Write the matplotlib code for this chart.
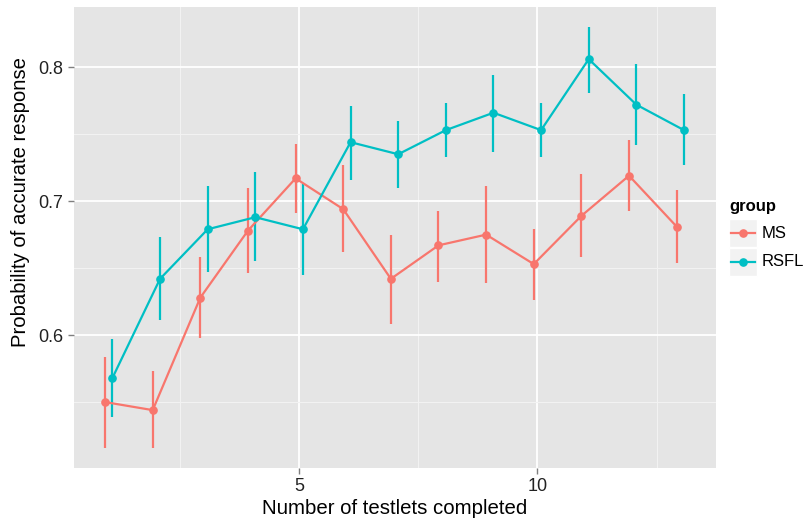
import matplotlib.pyplot as plt
from matplotlib.lines import Line2D
from matplotlib.patches import Rectangle

plt.rcParams['font.family'] = ['Liberation Sans', 'DejaVu Sans']

testlets = [1, 2, 3, 4, 5, 6, 7, 8, 9, 10, 11, 12, 13]

ms_mean = [0.550, 0.544, 0.628, 0.678, 0.717, 0.694, 0.642, 0.667, 0.675, 0.653, 0.689, 0.719, 0.681]
ms_low = [0.516, 0.516, 0.598, 0.646, 0.691, 0.662, 0.608, 0.640, 0.639, 0.626, 0.658, 0.693, 0.654]
ms_high = [0.584, 0.573, 0.658, 0.710, 0.743, 0.727, 0.675, 0.693, 0.711, 0.679, 0.720, 0.746, 0.708]

rsfl_mean = [0.568, 0.642, 0.679, 0.688, 0.679, 0.744, 0.735, 0.753, 0.766, 0.753, 0.806, 0.772, 0.753]
rsfl_low = [0.539, 0.611, 0.647, 0.655, 0.645, 0.716, 0.710, 0.733, 0.737, 0.733, 0.781, 0.742, 0.727]
rsfl_high = [0.597, 0.673, 0.711, 0.722, 0.713, 0.771, 0.760, 0.773, 0.794, 0.773, 0.830, 0.802, 0.780]

groups = ["MS", "RSFL"]
colors = ["#F8766D", "#00BFC4"]
dodge = [-0.077, 0.077]

fig = plt.figure(figsize=(8.05, 5.3), dpi=100)
ax = fig.add_axes([0.0919, 0.1175, 0.797, 0.8695])
ax.set_facecolor("#E5E5E5")

series = [(ms_mean, ms_low, ms_high), (rsfl_mean, rsfl_low, rsfl_high)]
for (mean, low, high), col, d in zip(series, colors, dodge):
    xs = [x + d for x in testlets]
    ax.vlines(xs, low, high, color=col, lw=1.6, zorder=3)
    ax.plot(xs, mean, color=col, lw=1.6, marker="o", ms=5.2, zorder=4)

ax.set_xlim(0.27, 13.74)
ax.set_ylim(0.501, 0.845)
ax.set_xticks([5, 10])
ax.set_xticks([2.5, 7.5, 12.5], minor=True)
ax.set_yticks([0.6, 0.7, 0.8])
ax.set_yticks([0.55, 0.65, 0.75], minor=True)
ax.set_yticklabels(["0.6", "0.7", "0.8"])
ax.grid(which="major", color="white", lw=1.3)
ax.grid(which="minor", color="#F2F2F2", lw=0.8)
ax.set_axisbelow(True)
for s in ax.spines.values():
    s.set_visible(False)
ax.tick_params(which="major", length=4, color="#7F7F7F", labelsize=13, labelcolor="#222222", width=1)
ax.tick_params(which="minor", length=0)

ax.set_xlabel("Number of testlets completed", fontsize=14.7, labelpad=3)
ax.set_ylabel("Probability of accurate response", fontsize=14.6)
ax.yaxis.set_label_coords(-0.069, 0.576)

# legend
W, H = 805, 530
fig.text(729 / W, 1 - 207 / H, "group", fontsize=12, fontweight="bold", va="center", ha="left")
for i, (g, col) in enumerate(zip(groups, colors)):
    top = 219 + i * 29
    fig.patches.append(Rectangle((729 / W, 1 - (top + 28) / H), 28 / W, 28 / H,
                                 transform=fig.transFigure, facecolor="#F2F2F2", edgecolor="white", lw=1))
    yc = 1 - (top + 14) / H
    fig.lines.append(Line2D([731 / W, 755 / W], [yc, yc], transform=fig.transFigure, color=col, lw=1.6))
    fig.lines.append(Line2D([743 / W], [yc], transform=fig.transFigure, color=col, marker="o", ms=5.2))
    fig.text(762 / W, yc, g, fontsize=12, va="center", ha="left")

fig.savefig("out.png", dpi=100)
